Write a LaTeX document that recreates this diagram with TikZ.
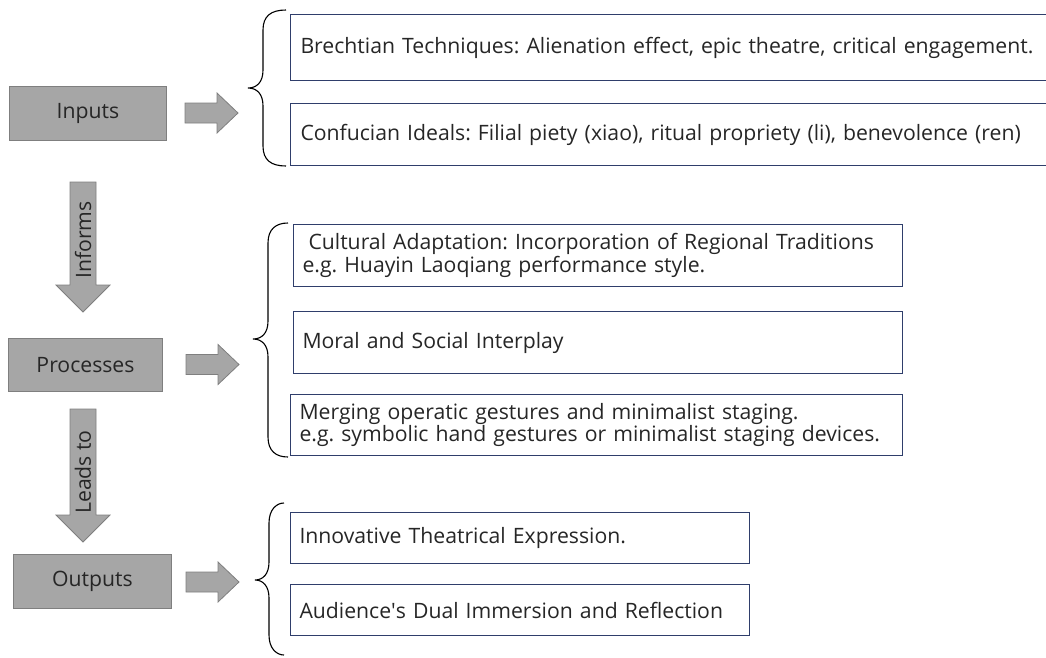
\documentclass[tikz,border=0pt]{standalone}
\usepackage{fontspec}
\setmainfont{Open Sans}
\frenchspacing
\definecolor{stagefill}{HTML}{A6A6A6}
\definecolor{stageedge}{HTML}{7F7F7F}
\definecolor{itemedge}{HTML}{2F3E6B}
\definecolor{inkgray}{HTML}{262626}

% block arrow pointing right: #1 = left x, #2 = centre y
\newcommand\blockright[2]{%
  \filldraw[blockarrow] (#1,#2-10) -- (#1+32,#2-10) -- (#1+32,#2-20)
    -- (#1+53,#2) -- (#1+32,#2+20) -- (#1+32,#2+10) -- (#1,#2+10) -- cycle;}
% block arrow pointing down: #1 = centre x, #2 = top y, #3 = tip y
\newcommand\blockdown[3]{%
  \filldraw[blockarrow] (#1-13,#2) -- (#1+13,#2) -- (#1+13,#3-27)
    -- (#1+27,#3-27) -- (#1,#3) -- (#1-27,#3-27) -- (#1-13,#3-27) -- cycle;}
% curly brace opening to the right: #1 tip x, #2 stem x, #3 end x, #4 top y, #5 tip y, #6 bottom y
\newcommand\curlybrace[6]{%
  \draw[bracestroke] (#3,#4) .. controls (#2+8,#4) and (#2,#4+6) .. (#2,#4+20)
    -- (#2,#5-18) .. controls (#2,#5-6) and (#2-6,#5) .. (#1,#5)
    .. controls (#2-6,#5) and (#2,#5+6) .. (#2,#5+18)
    -- (#2,#6-20) .. controls (#2,#6-6) and (#2+8,#6) .. (#3,#6);}

\begin{document}
\begin{tikzpicture}[x=1pt,y=-1pt,
  every node/.style={text=inkgray, font=\fontsize{21.2}{22.5}\selectfont},
  stage/.style={draw=stageedge, fill=stagefill, line width=1pt, anchor=north west,
    inner sep=0pt},
  item/.style={draw=itemedge, line width=1pt, anchor=north west, align=left,
    inner xsep=9pt, inner ysep=0pt},
  blockarrow/.style={fill=stagefill, draw=stageedge, line width=0.8pt},
  bracestroke/.style={draw=black, line width=1.1pt},
  rotlabel/.style={rotate=90, inner sep=0pt}]
\useasboundingbox (0,0) rectangle (1046,657);

% stage boxes
\node[stage, minimum width=157pt, minimum height=54pt] (inputs) at (9,86) {Inputs};
\node[stage, minimum width=154pt, minimum height=53pt] (processes) at (8,338) {Processes};
\node[stage, minimum width=158pt, minimum height=54pt] (outputs) at (13,554) {Outputs};

% arrows between stages
\blockdown{83}{182}{312}
\node[rotlabel] (informs) at (83,240) {Informs};
\blockdown{83}{409}{542}
\node[rotlabel] (leadsto) at (83,472) {Leads to};

% arrows towards the groups
\blockright{185}{113}
\blockright{186}{364.5}
\blockright{186}{582}

% braces
\curlybrace{248}{263}{286}{10}{88}{166}
\curlybrace{253}{268}{288}{223}{339}{457}
\curlybrace{255}{269}{284}{503}{580}{655}

% input items
\node[item, minimum width=780pt, minimum height=66pt, text width=760pt] (brecht) at (290,14)
  {Brechtian Techniques: Alienation effect, epic theatre, critical engagement.};
\node[item, minimum width=780pt, minimum height=62pt, text width=760pt] (confucian) at (290,103)
  {Confucian Ideals: Filial piety (xiao), ritual propriety (li), benevolence (ren)};

% process items
\node[item, minimum width=609pt, minimum height=62pt, text width=591pt] (cultural) at (293,224)
  {\hspace*{6pt}Cultural Adaptation: Incorporation of Regional Traditions\\e.g. Huayin Laoqiang performance style.};
\node[item, minimum width=609pt, minimum height=62pt, text width=591pt] (moral) at (293,311)
  {Moral and Social Interplay};
\node[item, minimum width=612pt, minimum height=61pt, text width=594pt] (merging) at (290,394)
  {Merging operatic gestures and minimalist staging.\\e.g. symbolic hand gestures or minimalist staging devices.};

% output items
\node[item, minimum width=459pt, minimum height=51pt, text width=441pt] (innovative) at (290,512)
  {Innovative Theatrical Expression.};
\node[item, minimum width=459pt, minimum height=51pt, text width=441pt] (audience) at (290,584)
  {Audience\textquotesingle s Dual Immersion and Reflection};
\end{tikzpicture}
\end{document}
